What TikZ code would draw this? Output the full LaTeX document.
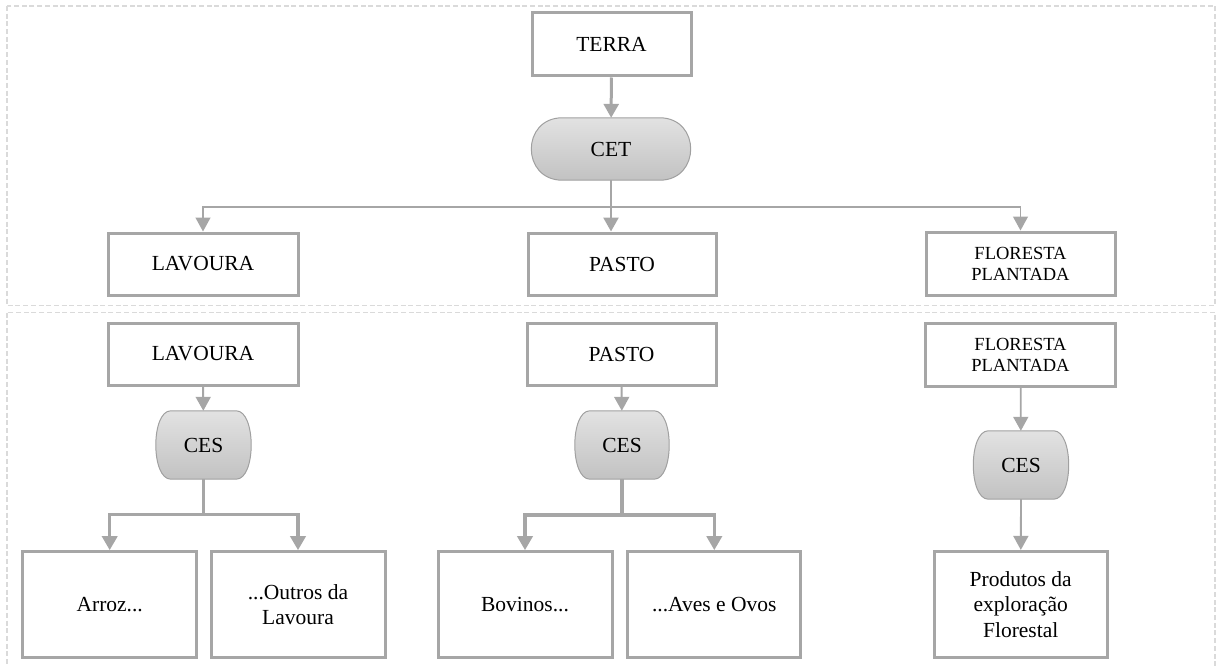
\documentclass[tikz,border=0pt]{standalone}
\usepackage{fontspec}
\setmainfont{Liberation Serif}
\usetikzlibrary{arrows.meta,calc,backgrounds}

\definecolor{linegray}{HTML}{A6A6A6}
\definecolor{framegray}{HTML}{DADADA}
\definecolor{shadetop}{HTML}{E2E2E2}
\definecolor{shadebot}{HTML}{C2C2C2}
\definecolor{capedge}{HTML}{A0A0A0}

% drum-like outline behind a node: straight top and bottom, bulging sides
\newcommand\drumoutline[2]{%
  \path[capsule]
    ($(#1.north west)+(#2,0)$) -- ($(#1.north east)+(-#2,0)$)
    .. controls ($(#1.north east)+(#2/3,0)$) and ($(#1.south east)+(#2/3,0)$) .. ($(#1.south east)+(-#2,0)$)
    -- ($(#1.south west)+(#2,0)$)
    .. controls ($(#1.south west)+(-#2/3,0)$) and ($(#1.north west)+(-#2/3,0)$) .. cycle;}

\tikzset{
  x=1pt, y=-1pt,
  txt/.style={font=\fontsize{21.5}{25.7}\selectfont},
  smalltxt/.style={font=\fontsize{18.5}{21}\selectfont},
  box/.style={draw=linegray, line width=3pt, fill=white, align=center,
              inner sep=0pt, txt},
  capnode/.style={inner sep=0pt, txt},
  capsule/.style={draw=capedge, line width=1pt, top color=shadetop, bottom color=shadebot},
  frame/.style={draw=framegray, line width=1.3pt, dash pattern=on 5pt off 2.7pt},
  tip/.style={-{Triangle[length=14pt,width=15pt]}},
  conn/.style={draw=linegray, line width=#1},
  conn/.default=2.6pt,
}

\begin{document}
\begin{tikzpicture}
\useasboundingbox (0,0) rectangle (1216,666);

% group frames
\draw[frame] (7,6) rectangle (1215,305.5);
\draw[frame] (7,312.5) rectangle (1215,690);

% upper level
\node[box, minimum width=159pt, minimum height=63pt] (terra) at (611.5,44.5) {TERRA};
\node[capnode, minimum width=159pt, minimum height=62pt] (cet) at (611,149) {CET};

\node[box, minimum width=190pt, minimum height=62pt] (lav1) at (203,264) {LAVOURA};
\node[box, minimum width=188pt, minimum height=62pt] (pas1) at (622,264) {PASTO};
\node[box, minimum width=189pt, minimum height=63pt, smalltxt] (flo1) at (1020.5,263.5) {FLORESTA\\PLANTADA};

% lower level
\node[box, minimum width=190pt, minimum height=62pt] (lav2) at (203,354) {LAVOURA};
\node[box, minimum width=189pt, minimum height=62pt] (pas2) at (621.5,354.5) {PASTO};
\node[box, minimum width=190pt, minimum height=63pt, smalltxt] (flo2) at (1020.5,355) {FLORESTA\\PLANTADA};

\node[capnode, minimum width=95pt, minimum height=68pt] (ces1) at (203.5,445) {CES};
\node[capnode, minimum width=94pt, minimum height=68pt] (ces2) at (622,445) {CES};
\node[capnode, minimum width=95pt, minimum height=68pt] (ces3) at (1021,465) {CES};

\node[box, minimum width=174pt, minimum height=106pt] (arroz) at (109.7,604.7) {Arroz...};
\node[box, minimum width=174pt, minimum height=106pt] (outros) at (298,604.7) {...Outros da\\Lavoura};
\node[box, minimum width=174pt, minimum height=106pt] (bov) at (525,604.7) {Bovinos...};
\node[box, minimum width=173pt, minimum height=106pt] (aves) at (714.3,604.7) {...Aves e Ovos};
\node[box, minimum width=173pt, minimum height=106pt] (prod) at (1020.7,604.4) {Produtos da\\exploração\\Florestal};

\begin{scope}[on background layer]
  \drumoutline{cet}{31pt}
  \drumoutline{ces1}{15pt}
  \drumoutline{ces2}{15pt}
  \drumoutline{ces3}{15pt}
\end{scope}

% branch points
\coordinate (s0) at (611,207);
\coordinate (s1) at (203.5,514.5);
\coordinate (s2) at (622,515);

% TERRA -> CET -> three land uses
\draw[conn=3pt, tip] (terra) -- (cet);
\draw[conn=2.6pt] (cet) -- (s0);
\draw[conn=2.6pt, tip] (s0) -- (s0 |- pas1.north);
\draw[conn=1.3pt, tip] (s0) -| (lav1.north);
\draw[conn=1.3pt, tip] (s0) -| (flo1.north);

% LAVOURA
\draw[conn=2pt, tip] (lav2) -- (ces1);
\draw[conn=3.5pt] (ces1) -- (s1);
\draw[conn=3.5pt, tip] (s1) -| (arroz.north);
\draw[conn=3.5pt, tip] (s1) -| (outros.north);

% PASTO
\draw[conn=2pt, tip] (pas2) -- (ces2);
\draw[conn=3.5pt] (ces2) -- (s2);
\draw[conn=3.5pt, tip] (s2) -| (bov.north);
\draw[conn=3.5pt, tip] (s2) -| (aves.north);

% FLORESTA PLANTADA
\draw[conn=1.8pt, tip] (flo2) -- (ces3);
\draw[conn=1.8pt, tip] (ces3) -- (prod);
\end{tikzpicture}
\end{document}
